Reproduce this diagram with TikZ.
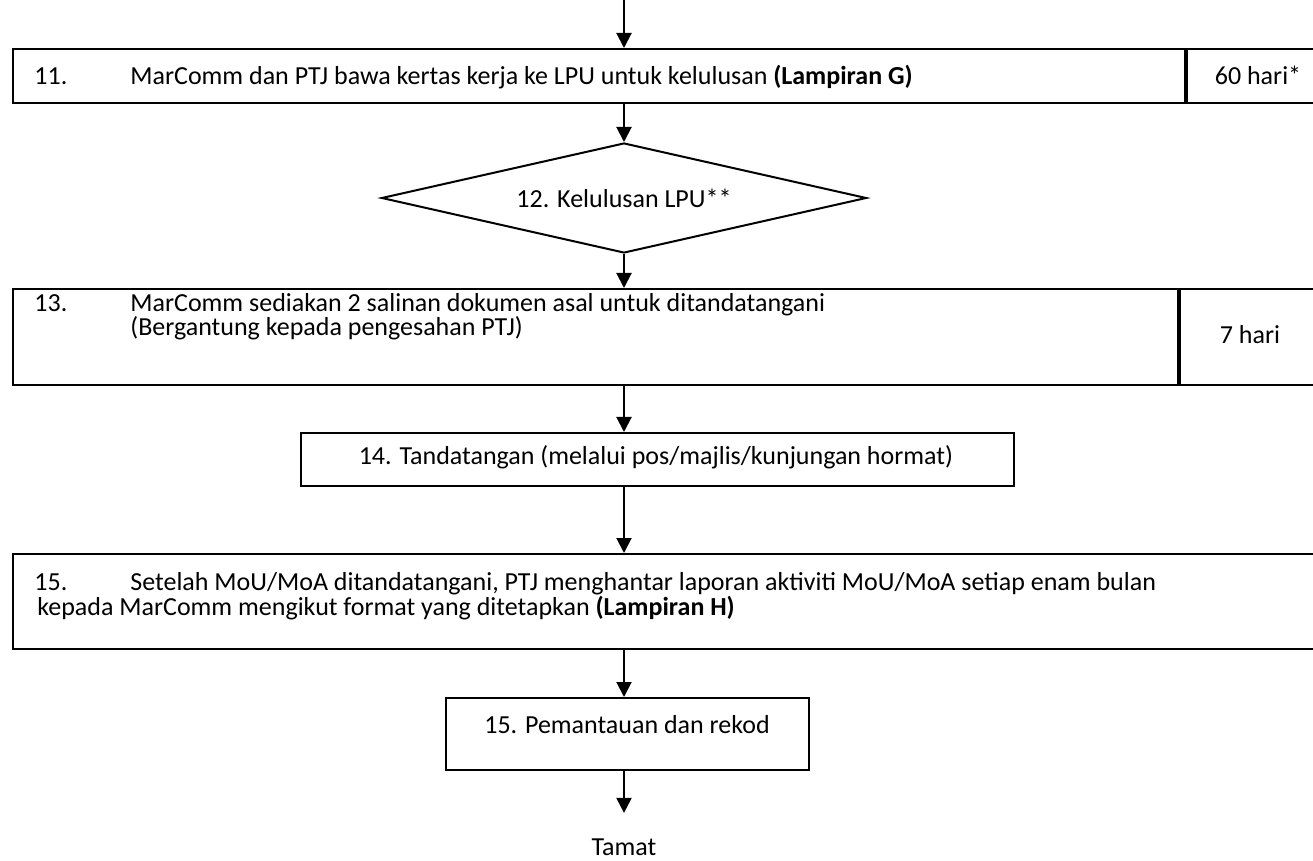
\documentclass[tikz,border=0pt]{standalone}
\usepackage{fontspec}
\setmainfont{Carlito}
\usetikzlibrary{shapes.geometric, arrows.meta}
\newcommand{\flowfont}{\fontsize{13}{12.5}\selectfont}

\tikzset{
  box/.style={draw, line width=1pt, inner sep=0pt, anchor=north west},
  decision/.style={diamond, draw, line width=1pt, aspect=4.4, inner sep=0pt,
    minimum width=242.5pt, minimum height=55pt, font=\flowfont},
  txt/.style={anchor=base west, inner sep=0pt, font=\flowfont},
  ctxt/.style={anchor=base, inner sep=0pt, font=\flowfont},
  flow/.style={line width=1pt, -{Triangle[length=7.5pt,width=7.5pt]}},
}

\begin{document}
\begin{tikzpicture}[x=0.5pt,y=-0.5pt]
\useasboundingbox (0,0) rectangle (1313,861);
\coordinate (axis) at (624,0);
% 11
\node[box, minimum width=586pt, minimum height=27pt] (b11) at (12,48) {};
\node[box, minimum width=70.5pt, minimum height=27pt] (t11) at (b11.north east) {};
\node[txt] (n11) at (34,85) {11.};
\node[txt] (s11) at (130,85) {MarComm dan PTJ bawa kertas kerja ke LPU untuk kelulusan \textbf{(Lampiran G)}};
\node[ctxt] (h11) at (1258,85) {60 hari*};
% 12
\node[decision] (d12) at (624,198) {12. Kelulusan LPU**};
% 13
\node[box, minimum width=582.5pt, minimum height=48pt] (b13) at (12,288) {};
\node[box, minimum width=74pt, minimum height=48pt] (t13) at (b13.north east) {};
\node[txt] (n13) at (34,312) {13.};
\node[txt] (s13a) at (130,312) {MarComm sediakan 2 salinan dokumen asal untuk ditandatangani};
\node[txt] (s13b) at (130,336) {(Bergantung kepada pengesahan PTJ)};
\node[ctxt] (h13) at (1250,344) {7 hari};
% 14
\node[box, minimum width=356.5pt, minimum height=26.5pt] (b14) at (300,432) {};
\node[ctxt] (s14) at (656,465) {14. Tandatangan (melalui pos/majlis/kunjungan hormat)};
% 15
\node[box, minimum width=656.5pt, minimum height=47.5pt] (b15) at (12,553) {};
\node[txt] (n15) at (34,590) {15.};
\node[txt] (s15a) at (130,590) {Setelah MoU/MoA ditandatangani, PTJ menghantar laporan aktiviti MoU/MoA setiap enam bulan};
\node[txt] (s15b) at (37,615) {kepada MarComm mengikut format yang ditetapkan \textbf{(Lampiran H)}};
% 15 pemantauan
\node[box, minimum width=181.5pt, minimum height=36pt] (b16) at (445,697) {};
\node[ctxt] (s16) at (627,733) {15. Pemantauan dan rekod};
\node[ctxt] (end) at (624,855) {Tamat};
% arrows
\draw[flow] (axis) -- (axis |- b11.north);
\draw[flow] (b11.south -| d12.north) -- (d12.north);
\draw[flow] (d12.south) -- (d12.south |- b13.north);
\draw[flow] (b13.south -| axis) -- (b14.north -| axis);
\draw[flow] (b14.south -| axis) -- (b15.north -| axis);
\draw[flow] (b15.south -| axis) -- (b16.north -| axis);
\draw[flow] (b16.south -| axis) -- ([yshift=12.5pt]end.north);
\end{tikzpicture}
\end{document}
